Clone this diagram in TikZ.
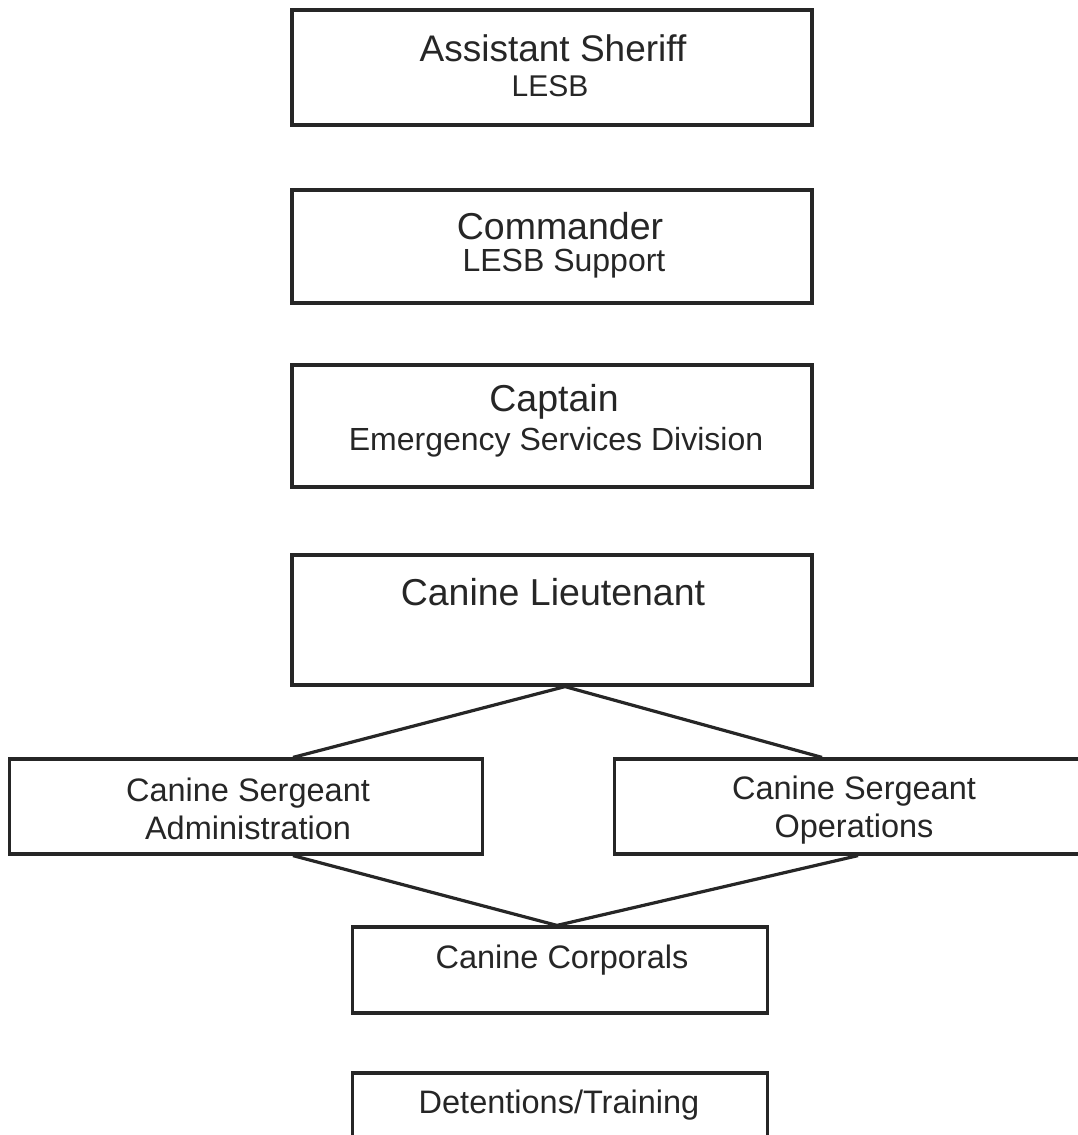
\documentclass[tikz,border=0pt]{standalone}
\usepackage{fontspec}
\setmainfont{Liberation Sans}
\usetikzlibrary{calc}
\begin{document}
\begin{tikzpicture}[x=1pt,y=-1pt,
  box/.style={draw=black!85, line width=3.2pt, rectangle, inner sep=0pt},
  conn/.style={draw=black!85, line width=3.2pt},
  ttl/.style={font=\fontsize{37.5}{41}\selectfont, text=black!85, inner sep=0pt},
  sub/.style={font=\fontsize{32}{36}\selectfont, text=black!85, inner sep=0pt},
  mid/.style={font=\fontsize{32.5}{37.5}\selectfont, text=black!85, inner sep=0pt, align=center}]
\useasboundingbox (0,0) rectangle (1078,1135);
% boxes
\node[box, minimum width=520, minimum height=115] (b1) at (552,67.5) {};
\node[box, minimum width=520, minimum height=113] (b2) at (552,246.5) {};
\node[box, minimum width=520, minimum height=122] (b3) at (552,426) {};
\node[box, minimum width=520, minimum height=130] (b4) at (552,620) {};
\node[box, minimum width=473, minimum height=95] (sa) at (246,806.5) {};
\node[box, minimum width=475, minimum height=95] (so) at (852,806.5) {};
\node[box, minimum width=415, minimum height=86] (cc) at (560,970) {};
\node[box, minimum width=415, minimum height=100] (dt) at (560,1123) {};
% texts
\node[ttl, font=\fontsize{37}{41}\selectfont] (t1) at (553,48) {Assistant Sheriff};
\node[sub, font=\fontsize{30}{34}\selectfont] (s1) at (550,86) {LESB};
\node[ttl] (t2) at (560,226) {Commander};
\node[sub] (s2) at (564,264) {LESB Support};
\node[ttl] (t3) at (554,402) {Captain};
\node[sub] (s3) at (556,442) {Emergency Services Division};
\node[ttl] (t4) at (553,592) {Canine Lieutenant};
\node[mid] (s5) at (248,809) {Canine Sergeant\\Administration};
\node[mid] (s6) at (854,810) {Canine Sergeant\\Operations};
\node[mid] (t7) at (562,960) {Canine Corporals};
\node[mid] (t8) at (559,1105) {Detentions/Training};
% connectors
\coordinate (ap) at ($(b4.south)+(13,0)$);
\coordinate (ac) at ($(cc.north)+(-3,0)$);
\draw[conn] ($(sa.north)+(47,0)$) -- (ap) -- ($(so.north)+(-30,0)$);
\draw[conn] ($(sa.south)+(47,0)$) -- (ac) -- ($(so.south)+(6,0)$);
\end{tikzpicture}
\end{document}
